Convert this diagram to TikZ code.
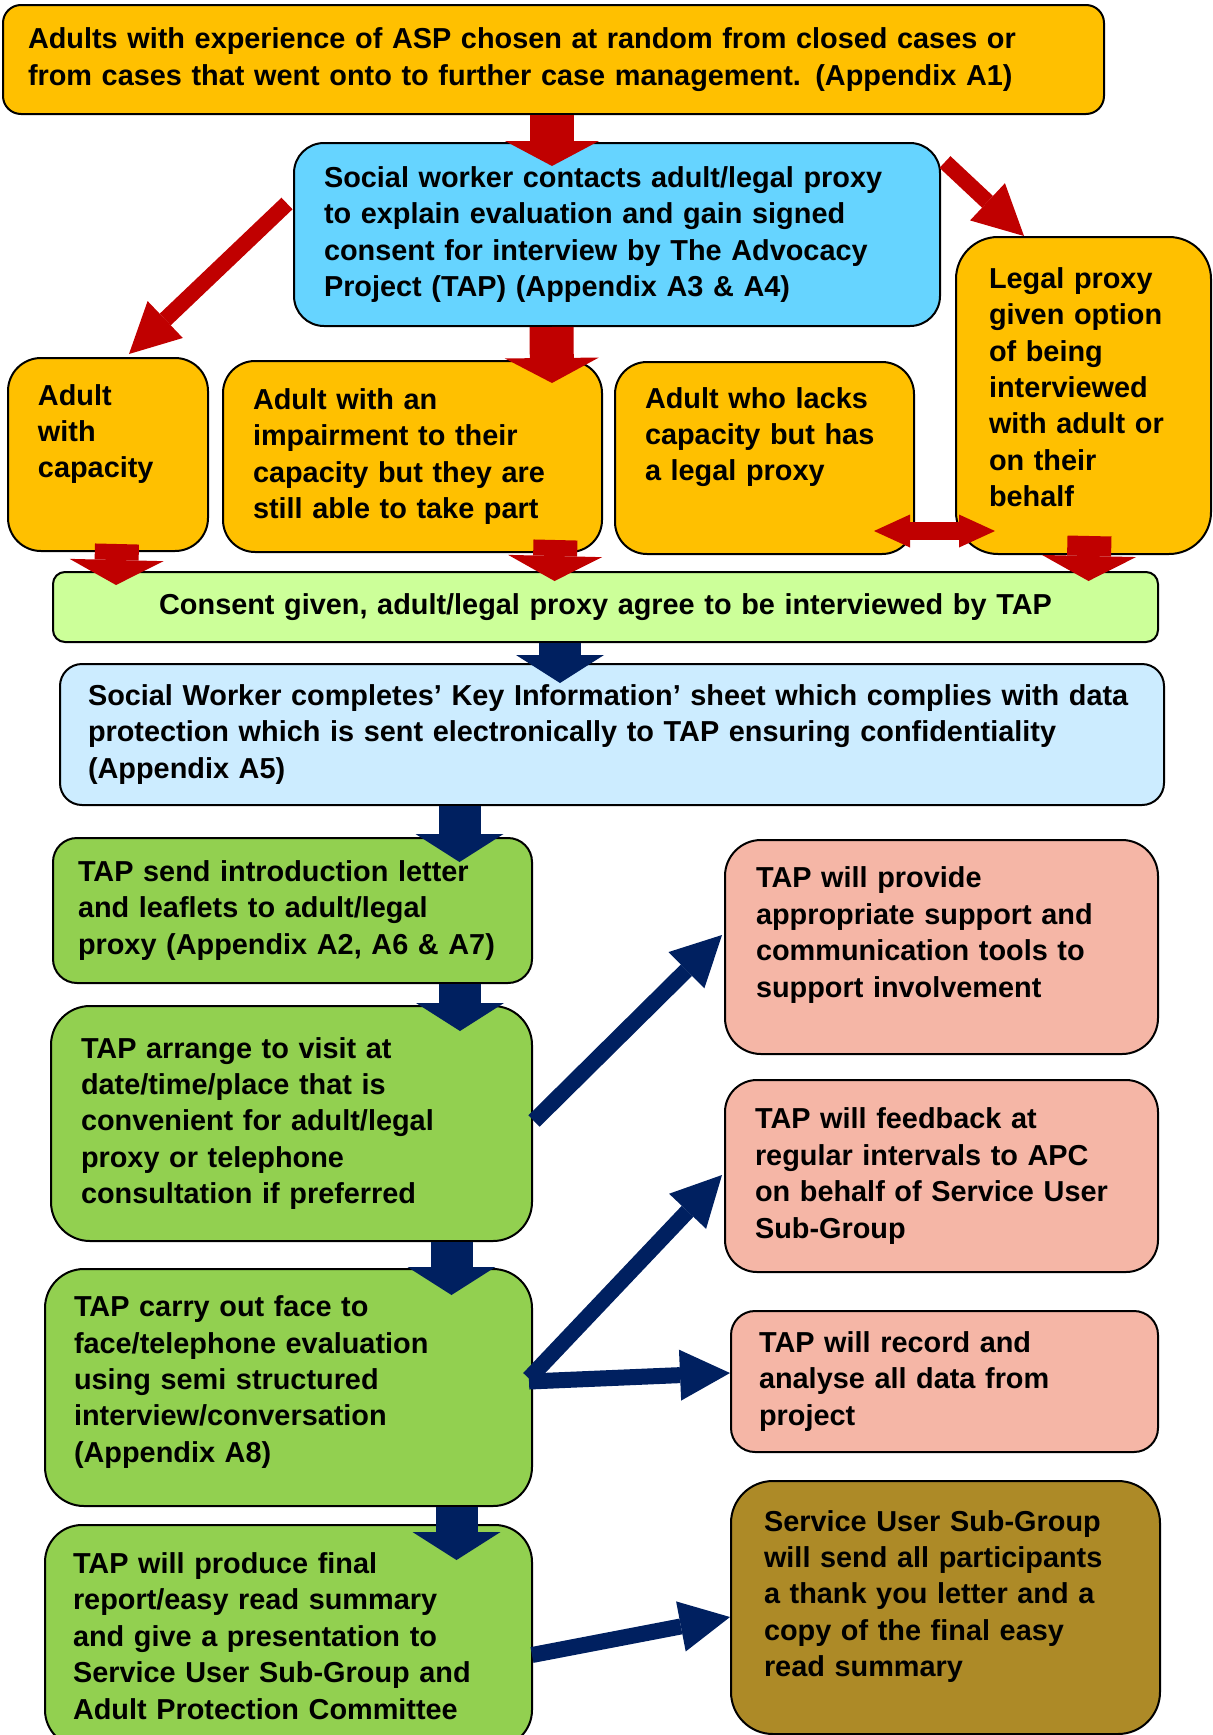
\documentclass[tikz,border=0pt]{standalone}
\usepackage{fontspec}
\setmainfont{Liberation Sans}
\usetikzlibrary{arrows.meta,calc}

\definecolor{boxorange}{HTML}{FFC000}
\definecolor{boxcyan}{HTML}{66D4FF}
\definecolor{boxlime}{HTML}{CCFF99}
\definecolor{boxpaleblue}{HTML}{CCECFF}
\definecolor{boxgreen}{HTML}{92D050}
\definecolor{boxpink}{HTML}{F5B6A6}
\definecolor{boxolive}{HTML}{AD8A27}
\definecolor{arrowred}{HTML}{C00000}
\definecolor{arrownavy}{HTML}{002060}

\begin{document}
\begin{tikzpicture}[x=0.5pt, y=-0.5pt,
        % --- Box styles ---
        box/.style={
            draw=black, line width=1pt, anchor=north west, align=left,
            font=\fontsize{14.43}{18.2}\selectfont\bfseries, inner ysep=2pt
        },
        stepbox/.style={box, fill=boxorange},
        tapbox/.style={box, fill=boxgreen},
        outbox/.style={box, fill=boxpink},
        % --- Arrow styles ---
        redarrow/.style={draw=arrowred, line width=22pt,
            -{Triangle[length=12.5pt, width=47pt, line width=0pt]}},
        navyarrow/.style={draw=arrownavy, line width=21pt,
            -{Triangle[length=14pt, width=44pt, line width=0pt]}},
        reddiag/.style={draw=arrowred, line width=8pt,
            -{Triangle[length=25pt, width=25.5pt, line width=0pt]}},
        navydiag/.style={draw=arrownavy, line width=8pt,
            -{Triangle[length=25pt, width=25.5pt, line width=0pt]}},
        reddouble/.style={draw=arrowred, line width=9pt,
            {Triangle[length=18pt, width=16.5pt, line width=0pt]}-{Triangle[length=18pt, width=16.5pt, line width=0pt]}},
    ]

    % ===== Page (pixels of the 1212 x 1735 sheet, y downwards) =====
    \useasboundingbox (0,0) rectangle (1212,1735);
    \clip (0,0) rectangle (1212,1735);

    % ===== Selection and consent =====
    \node[stepbox, minimum width=550.5pt, minimum height=54.5pt, text width=525.5pt,
          inner xsep=12.5pt, rounded corners=9pt] (select) at (2,4)
        {Adults with experience of ASP chosen at random from closed cases or\\
         from cases that went onto to further case management. (Appendix A1)};
    \node[box, fill=boxcyan, minimum width=323pt, minimum height=91.5pt, text width=293pt,
          inner xsep=15pt, rounded corners=15pt] (contact) at (293,142)
        {Social worker contacts adult/legal proxy\\
         to explain evaluation and gain signed\\
         consent for interview by The Advocacy\\
         Project (TAP) (Appendix A3 \& A4)};
    \node[stepbox, minimum width=127.5pt, minimum height=158.5pt, text width=94.5pt,
          inner xsep=16.5pt, rounded corners=21pt] (proxy) at (955,236)
        {Legal proxy\\ given option\\ of being\\ interviewed\\ with adult or\\ on their\\ behalf\\[-9.7pt]\mbox{}};
    \node[stepbox, minimum width=100pt, minimum height=96.5pt, text width=70pt,
          inner xsep=15pt, rounded corners=16.5pt] (capable) at (7,357)
        {Adult\\ with\\ capacity\\[5.3pt]\mbox{}};
    \node[stepbox, minimum width=189.5pt, minimum height=95.5pt, text width=159.5pt,
          inner xsep=15pt, rounded corners=16pt] (impaired) at (222,360)
        {Adult with an\\ impairment to their\\ capacity but they are\\ still able to take part};
    \node[stepbox, minimum width=149.5pt, minimum height=96pt, text width=119.5pt,
          inner xsep=15pt, rounded corners=16pt] (lacks) at (614,361)
        {Adult who lacks\\ capacity but has\\ a legal proxy\\[5.8pt]\mbox{}};
    \node[box, fill=boxlime, align=center, minimum width=552.5pt, minimum height=35pt,
          text width=530pt, inner xsep=11.25pt, rounded corners=6pt] (consent) at (52,571)
        {Consent given, adult/legal proxy agree to be interviewed by TAP};
    \node[box, fill=boxpaleblue, minimum width=552pt, minimum height=70.5pt, text width=524pt,
          inner xsep=14pt, rounded corners=11pt] (keyinfo) at (59,663)
        {\mbox{Social Worker completes’ Key Information’ sheet which complies with data}\\
         protection which is sent electronically to TAP ensuring confidentiality\\
         (Appendix A5)};

    % ===== TAP steps =====
    \node[tapbox, minimum width=239.5pt, minimum height=72.5pt, text width=214.5pt,
          inner xsep=12.5pt, rounded corners=12pt] (letter) at (52,837)
        {TAP send introduction letter\\ and leaflets to adult/legal\\ proxy (Appendix A2, A6 \& A7)};
    \node[tapbox, minimum width=240.5pt, minimum height=117.5pt, text width=210.5pt,
          inner xsep=15pt, rounded corners=19.5pt] (visit) at (50,1005)
        {TAP arrange to visit at\\ date/time/place that is\\ convenient for adult/legal\\
         proxy or telephone\\ consultation if preferred};
    \node[tapbox, minimum width=243.5pt, minimum height=118.5pt, text width=214.5pt,
          inner xsep=14.5pt, rounded corners=19.5pt] (interview) at (44,1268)
        {TAP carry out face to\\ face/telephone evaluation\\ using semi structured\\
         interview/conversation\\ (Appendix A8)\\[-9.7pt]\mbox{}};
    \node[tapbox, minimum width=243.5pt, minimum height=111pt, text width=215.5pt,
          inner xsep=14pt, rounded corners=18.5pt] (report) at (44,1524)
        {TAP will produce final\\ report/easy read summary\\ and give a presentation to\\
         Service User Sub-Group and\\ Adult Protection Committee};

    % ===== Outcomes =====
    \node[outbox, minimum width=216.5pt, minimum height=107pt, text width=185.5pt,
          inner xsep=15.5pt, rounded corners=18pt] (support) at (724,839)
        {TAP will provide\\ appropriate support and\\ communication tools to\\ support involvement\\[-3.2pt]\mbox{}};
    \node[outbox, minimum width=216.5pt, minimum height=96pt, text width=186.5pt,
          inner xsep=15pt, rounded corners=16pt] (feedback) at (724,1079)
        {TAP will feedback at\\ regular intervals to APC\\ on behalf of Service User\\ Sub-Group};
    \node[outbox, minimum width=213.5pt, minimum height=70.5pt, text width=185.5pt,
          inner xsep=14pt, rounded corners=12pt] (analyse) at (730,1310)
        {TAP will record and\\ analyse all data from\\ project};
    \node[box, fill=boxolive, minimum width=214.5pt, minimum height=126.5pt, text width=181.5pt,
          inner xsep=16.5pt, rounded corners=21pt] (thanks) at (730,1480)
        {Service User Sub-Group\\ will send all participants\\ a thank you letter and a\\
         copy of the final easy\\ read summary\\[-4.2pt]\mbox{}};

    % ===== Red arrows =====
    \draw[redarrow] ($(select.south)+(-1.5,0)$) -- ($(contact.north)+(-65,24)$);
    \draw[redarrow] ($(contact.south)+(-65.5,0)$) -- ($(impaired.north)+(139.5,23)$);
    \draw[reddiag] ($(contact.west)+(-6,-31)$) -- ($(capable.north)+(21,-3)$);
    \draw[reddiag] ($(contact.north east)+(4,20)$) -- ($(proxy.north)+(-59.5,0)$);
    \draw[redarrow] ($(capable.south)+(9,-8)$) -- ($(consent.north west)+(64,14)$);
    \draw[redarrow] ($(impaired.south)+(143,-13)$) -- ($(consent.north west)+(502.5,10)$);
    \draw[redarrow] ($(proxy.south)+(6,-19)$) -- ($(consent.north west)+(1036.5,10)$);
    \draw[reddouble] ($(lacks.south east)+(-41,-24)$) -- ($(proxy.south west)+(40,-24)$);

    % ===== Navy arrows =====
    \draw[navyarrow] ($(consent.south)+(-45.5,0)$) -- ($(keyinfo.north)+(-52,20)$);
    \draw[navyarrow] ($(keyinfo.south)+(-152.5,0)$) -- ($(letter.north)+(167,25)$);
    \draw[navyarrow] ($(letter.south)+(167.5,0)$) -- ($(visit.north)+(168.5,26)$);
    \draw[navyarrow] ($(visit.south)+(160,0)$) -- ($(interview.north)+(163,27)$);
    \draw[navyarrow] ($(interview.south)+(168,0)$) -- ($(report.north)+(168,36)$);
    \draw[navydiag] ($(visit.east)+(1,-2.5)$) -- ($(support.west)+(-2,-12)$);
    \draw[navydiag] ($(interview.east)+(-4,-9)$) -- ($(feedback.west)+(-2,-1)$);
    \draw[navydiag] ($(interview.east)+(-4,-6)$) -- ($(analyse.west)+(0,-8.5)$);
    \draw[navydiag] ($(report.east)+(-1,19)$) -- ($(thanks.west)+(0,9.5)$);

\end{tikzpicture}
\end{document}
